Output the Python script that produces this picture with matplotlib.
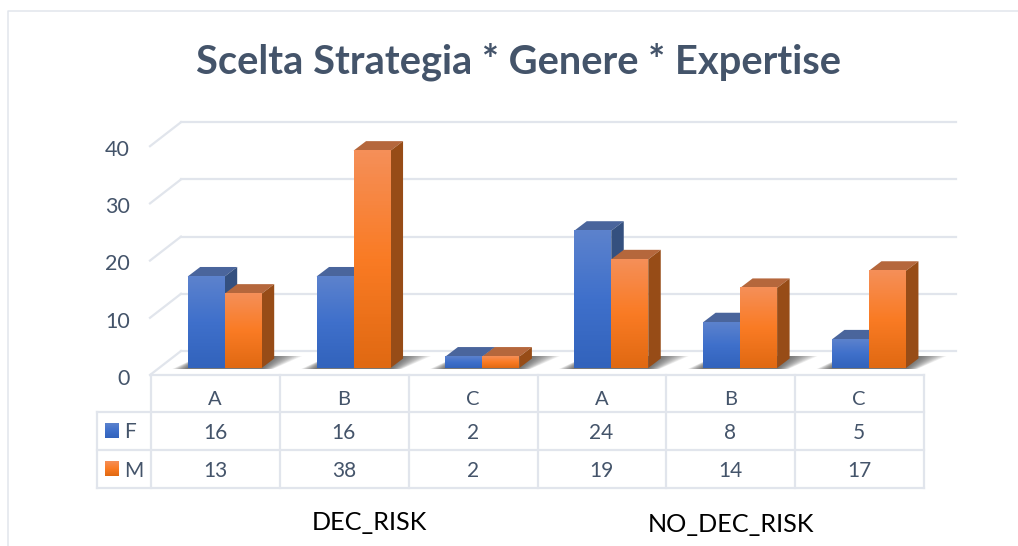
import numpy as np
import matplotlib
matplotlib.use('Agg')
import matplotlib.pyplot as plt
from matplotlib.colors import LinearSegmentedColormap
from matplotlib.patches import Polygon

groups = ['DEC_RISK', 'NO_DEC_RISK']
categories = ['A', 'B', 'C', 'A', 'B', 'C']
series_names = ['F', 'M']
values_f = [16, 16, 2, 24, 8, 5]
values_m = [13, 38, 2, 19, 14, 17]
y_ticks = [0, 10, 20, 30, 40]

W, H = 1018, 546
SLOT = 128.85     # px per category
UNIT = 5.72       # px per value unit
X0, Y0 = 224.7, 368.0   # px position of category 0, value 0

TEXT = '#44546a'
GRID = '#e1e5ec'
LW = 1.6
plt.rcParams['font.family'] = ['Lato', 'DejaVu Sans']

fig = plt.figure(figsize=(W / 100, H / 100), dpi=100)
ax = fig.add_axes([0, 0, 1, 1])
ax.axis('off')


def px(x):
    return (x - X0) / SLOT


def py(y):
    return (Y0 - y) / UNIT


def set_view():
    # imshow changes the limits, so this gets called again after it
    ax.set_xlim(px(0), px(W))
    ax.set_ylim(py(H), py(0))


blue = LinearSegmentedColormap.from_list('b', ['#3263bc', '#3f70cb', '#5c82cd'])
orange = LinearSegmentedColormap.from_list('o', ['#e06912', '#fa7b24', '#f58f58'])
side_blue = LinearSegmentedColormap.from_list('sb', ['#34507f', '#34507f'])
ramp = np.linspace(0, 1, 64).reshape(-1, 1)

BAR = 37 / SLOT
DX, DY = 12.5 / SLOT, 9.5 / UNIT

# back wall gridlines and the slanted bit down to the front edge
for v in y_ticks:
    back = v + (368 - 351) / UNIT
    front = v + (368 - 375) / UNIT
    ax.plot([px(181), px(956)], [back, back], color=GRID, lw=LW, zorder=1)
    ax.plot([px(150), px(181)], [front, back], color=GRID, lw=LW, zorder=1)
    ax.text(px(130), front - 0.3, str(v), color=TEXT, fontsize=15.5, ha='right', va='center_baseline')


def shadow(x0, x1):
    # soft floor shadow behind each pair of bars
    for k in range(14):
        grow = (14 - k) * 2.0 / SLOT
        ax.add_patch(Polygon([(x0 - grow * 0.55, py(369)), (x1 + grow * 0.4, py(369)),
                              (x1 + DX + grow, py(356)), (x0 + DX, py(356))],
                             closed=True, fc='#3a3a38', ec='none', alpha=0.075, zorder=2))


def bar(x, v, cmap, top_col, side_col):
    ax.imshow(ramp, cmap=cmap, origin='lower', aspect='auto',
              extent=(x, x + BAR, 0, v), zorder=4, vmin=0, vmax=1)
    ax.add_patch(Polygon([(x, v), (x + BAR, v), (x + BAR + DX, v + DY), (x + DX, v + DY)],
                         closed=True, fc=top_col, ec='none', zorder=3.5))
    ax.add_patch(Polygon([(x + BAR, 0), (x + BAR + DX, DY), (x + BAR + DX, v + DY), (x + BAR, v)],
                         closed=True, fc=side_col, ec='none', zorder=3.5))


for i, (f, m) in enumerate(zip(values_f, values_m)):
    shadow(i - BAR, i + BAR)
    bar(i - BAR, f, blue, '#4a659c', '#34507f')
    bar(i, m, orange, '#b5673c', '#974c17')

# data table
col_x = [151 + SLOT * k for k in range(7)]
row_y = [375, 411.7, 450, 488]
for x in col_x:
    ax.plot([px(x), px(x)], [py(375), py(488)], color=GRID, lw=LW, zorder=1)
ax.plot([px(151), px(col_x[-1])], [py(375), py(375)], color=GRID, lw=LW, zorder=1)
for y in row_y[1:]:
    ax.plot([px(97), px(col_x[-1])], [py(y), py(y)], color=GRID, lw=LW, zorder=1)
ax.plot([px(97), px(97)], [py(411.7), py(488)], color=GRID, lw=LW, zorder=1)

for i, c in enumerate(categories):
    cx = px(col_x[i] + SLOT / 2 - 0.5)
    ax.text(cx, py(398), c, color=TEXT, fontsize=14.5, ha='center', va='center_baseline')
    ax.text(cx, py(431), str(values_f[i]), color=TEXT, fontsize=15, ha='center', va='center_baseline')
    ax.text(cx, py(469), str(values_m[i]), color=TEXT, fontsize=15, ha='center', va='center_baseline')

for name, y, cmap in zip(series_names, [430.5, 469], [blue, orange]):
    ax.imshow(ramp, cmap=cmap, origin='lower', aspect='auto', zorder=4,
              extent=(px(105), px(119), py(y + 7.5), py(y - 7.5)))
    ax.text(px(124), py(y), name, color=TEXT, fontsize=15, ha='left', va='center_baseline')

# group labels under the table
ax.text(px(369.5), py(520), groups[0], color='black', fontsize=18.2, ha='center', va='center_baseline')
ax.text(px(731.5), py(523), groups[1], color='black', fontsize=18.2, ha='center', va='center_baseline')

ax.text(px(519), py(58), 'Scelta Strategia * Genere * Expertise', color=TEXT,
        fontsize=28.75, fontweight='bold', ha='center', va='center_baseline')

# outer frame of the pasted chart
ax.plot([px(8), px(8), px(1018)], [py(546), py(10.5), py(10.5)], color=GRID, lw=1.1, zorder=1)

set_view()
fig.savefig('out.png', dpi=100)
